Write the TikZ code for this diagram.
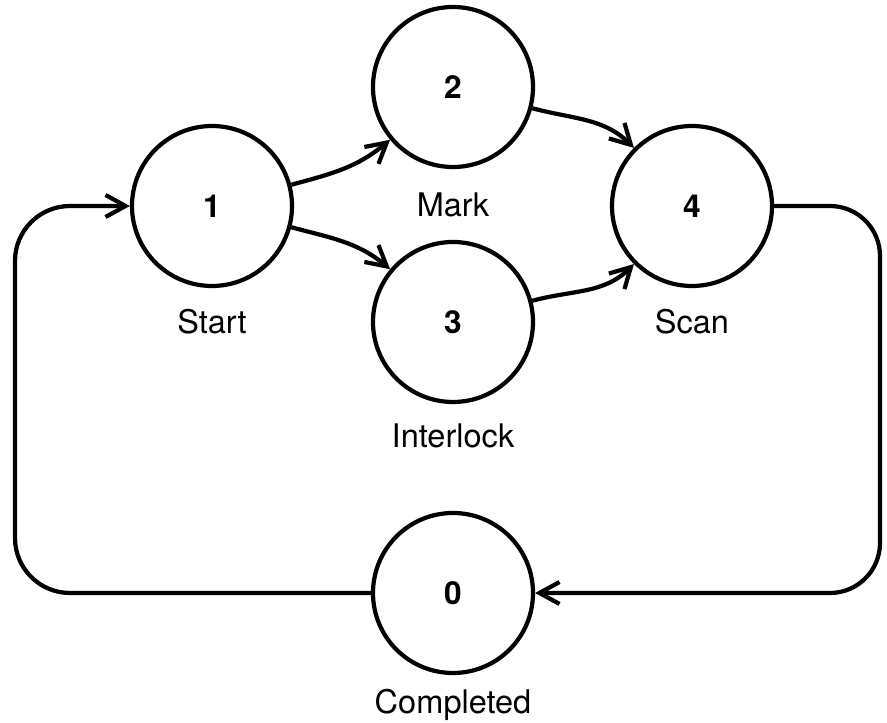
\documentclass[tikz,border=0pt]{standalone}
\usepackage{fontspec}
\setmainfont{TeX Gyre Heros}
\usetikzlibrary{positioning,arrows.meta}

\tikzset{
  phase/.style={circle, draw=black, line width=2.4pt, minimum size=3.2cm, inner sep=0pt,
    font=\fontsize{18}{20}\selectfont\bfseries},
  tag/.style={inner sep=0pt, font=\fontsize{18.5}{20}\selectfont},
  flow/.style={line width=2.4pt, -{Straight Barb[length=4mm,width=4.4mm]}},
}

\begin{document}
\begin{tikzpicture}[on grid]
	\useasboundingbox (0,0) rectangle (17.74,14.46);
	\node[phase] (n1) at (4.24,10.34) {1};
	\node[phase, above right = 2.38cm and 4.82cm of n1] (n2) {2};
	\node[phase, below right = 2.32cm and 4.82cm of n1] (n3) {3};
	\node[phase, right = 9.6cm of n1] (n4) {4};
	\node[phase, below = 5.42cm of n3] (n0) {0};
	\node[tag, below = 2.32cm of n1] (start) {Start};
	\node[tag, below = 2.36cm of n2] (mark) {Mark};
	\node[tag, below = 2.28cm of n3] (interlock) {Interlock};
	\node[tag, below = 2.32cm of n4] (scan) {Scan};
	\node[tag, below = 2.24cm of n0] (completed) {Completed};
	\coordinate (lft) at (0.3,6);
	\coordinate (rgt) at (17.6,6);
	\draw[flow] (n1) to[out=15, in=220] (n2);
	\draw[flow] (n1) to[out=-15, in=140] (n3);
	\draw[flow] (n2) to[out=-15, in=135] (n4);
	\draw[flow] (n3) to[out=15, in=225] (n4);
	\draw[flow, rounded corners=1.1cm] (n0.west) -| (lft) |- (n1.west);
	\draw[flow, rounded corners=1cm] (n4.east) -| (rgt) |- (n0.east);
\end{tikzpicture}
\end{document}
